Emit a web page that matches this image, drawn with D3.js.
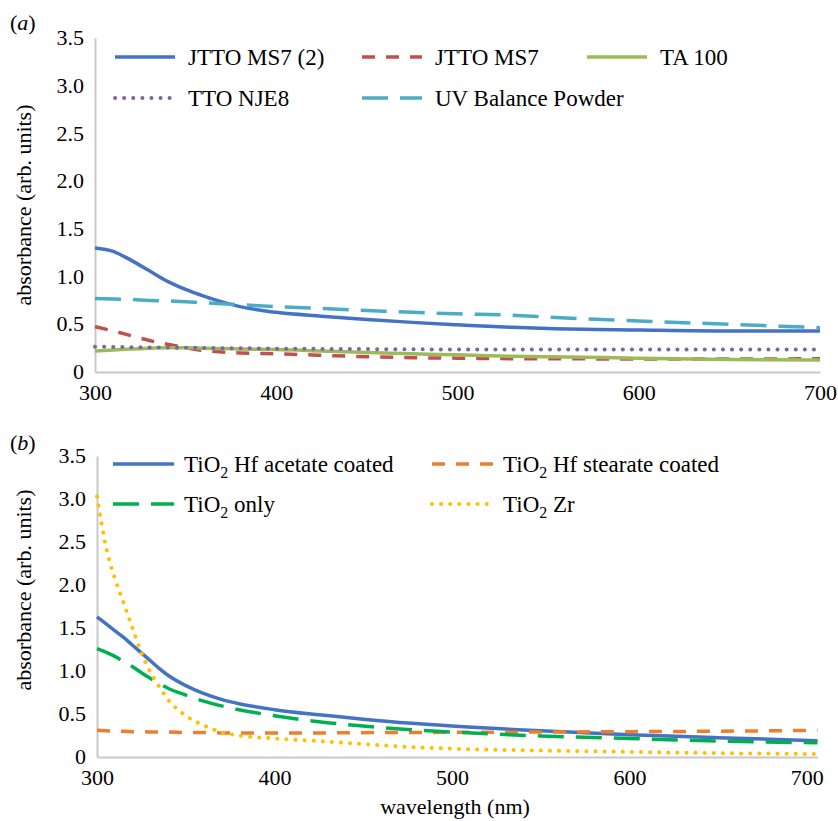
<!DOCTYPE html>
<html>
<head>
<meta charset="utf-8">
<script src="https://cdn.jsdelivr.net/npm/d3@7"></script>
<style>
  html, body { margin: 0; padding: 0; background: #fff; }
  svg { display: block; }
  svg text { font-family: "Liberation Serif", "DejaVu Serif", "Noto Serif", "Times New Roman", Times, Tinos, serif !important; fill: #000; }
</style>
</head>
<body>
<svg id="chart" width="838" height="821"></svg>
<script>
// ---------- Panel (a) data ----------
const wavelengthsA = [300,310,320,330,340,350,360,370,380,400,425,450,475,500,530,550,600,650,700];
const jttoMs7_2   = [1.30,1.265,1.17,1.06,0.95,0.865,0.795,0.735,0.685,0.625,0.585,0.55,0.52,0.495,0.468,0.455,0.44,0.43,0.43];
const jttoMs7     = [0.475,0.43,0.38,0.33,0.29,0.255,0.225,0.21,0.20,0.19,0.175,0.16,0.15,0.145,0.14,0.14,0.135,0.135,0.14];
const ta100       = [0.22,0.23,0.24,0.25,0.255,0.255,0.25,0.245,0.24,0.235,0.22,0.205,0.19,0.18,0.165,0.16,0.145,0.13,0.125];
const ttoNje8     = [0.265,0.263,0.26,0.258,0.256,0.254,0.252,0.25,0.249,0.245,0.242,0.24,0.238,0.236,0.235,0.235,0.235,0.235,0.235];
const uvBalance   = [0.77,0.765,0.76,0.75,0.745,0.735,0.725,0.715,0.705,0.685,0.665,0.645,0.625,0.61,0.595,0.575,0.535,0.50,0.465];

// ---------- Panel (b) data ----------
const wavelengthsB = [300,305,310,315,320,325,330,335,340,350,360,370,380,400,425,450,475,500,550,600,650,706];
const hfAcetate  = [1.63,1.55,1.47,1.39,1.30,1.21,1.12,1.03,0.95,0.83,0.74,0.67,0.62,0.55,0.49,0.44,0.395,0.36,0.305,0.26,0.225,0.19];
const hfStearate = [0.31,0.305,0.30,0.30,0.295,0.295,0.29,0.29,0.29,0.285,0.285,0.28,0.28,0.28,0.28,0.283,0.285,0.287,0.29,0.295,0.30,0.31];
const tio2Only   = [1.26,1.22,1.17,1.11,1.05,0.98,0.915,0.855,0.80,0.72,0.65,0.595,0.55,0.48,0.41,0.36,0.32,0.29,0.245,0.215,0.185,0.165];
const tio2Zr     = [3.03,2.45,2.08,1.79,1.50,1.21,0.99,0.82,0.67,0.48,0.37,0.29,0.25,0.215,0.185,0.15,0.118,0.097,0.075,0.06,0.045,0.035];

// ---------- ticks & labels ----------
const yTicks = [0,0.5,1.0,1.5,2.0,2.5,3.0,3.5];
const xTicks = [300,400,500,600,700];
const yTitle = "absorbance (arb. units)";
const xTitle = "wavelength (nm)";

const DOT = "0.1,9", DASH = "13,11", LONGDASH = "26,12";
const seriesA = [
  {name:["JTTO MS7 (2)"], values:jttoMs7_2, color:"#4472C4", dash:null, cap:"butt"},
  {name:["JTTO MS7"], values:jttoMs7, color:"#C0504D", dash:DASH, cap:"butt"},
  {name:["TA 100"], values:ta100, color:"#9BBB59", dash:null, cap:"butt"},
  {name:["TTO NJE8"], values:ttoNje8, color:"#8064A2", dash:DOT, cap:"round"},
  {name:["UV Balance Powder"], values:uvBalance, color:"#4BACC6", dash:LONGDASH, cap:"butt"}
];
const seriesB = [
  {name:["TiO","2"," Hf acetate coated"], values:hfAcetate, color:"#4472C4", dash:null, cap:"butt"},
  {name:["TiO","2"," Hf stearate coated"], values:hfStearate, color:"#ED7D31", dash:DASH, cap:"butt"},
  {name:["TiO","2"," only"], values:tio2Only, color:"#00B050", dash:LONGDASH, cap:"butt"},
  {name:["TiO","2"," Zr"], values:tio2Zr, color:"#FFC000", dash:DOT, cap:"round"}
];

const svg = d3.select("#chart");

function drawPanel(cfg) {
  const g = svg.append("g");
  const x = d3.scaleLinear().domain(cfg.xDomain).range(cfg.xRange);
  const y = d3.scaleLinear().domain([0,3.5]).range(cfg.yRange);

  const yAxis = d3.axisLeft(y).tickValues(yTicks).tickSize(0).tickPadding(11)
    .tickFormat(d => d === 0 ? "0" : d3.format(".1f")(d));
  const ya = g.append("g").attr("transform", `translate(${cfg.xRange[0]},0)`).call(yAxis);
  ya.select(".domain").attr("stroke", "#c8c8c8").attr("stroke-width", 2);
  ya.selectAll("text").attr("font-size", 22).attr("dy", "0.3em");

  const xAxis = d3.axisBottom(x).tickValues(xTicks).tickSize(0).tickPadding(12)
    .tickFormat(d3.format("d"));
  const xa = g.append("g").attr("transform", `translate(0,${cfg.yRange[0]})`).call(xAxis);
  xa.select(".domain").attr("stroke", "#c8c8c8").attr("stroke-width", 2);
  xa.selectAll("text").attr("font-size", 22);

  const line = d3.line().curve(d3.curveMonotoneX);
  cfg.series.forEach(s => {
    const pts = cfg.wl.map((w, i) => [x(w), y(s.values[i])]);
    g.append("path").attr("d", line(pts)).attr("fill", "none")
      .attr("stroke", s.color).attr("stroke-width", s.cap === "round" ? 4 : 3.5)
      .attr("stroke-dasharray", s.dash).attr("stroke-linecap", s.cap);
  });

  cfg.series.forEach((s, i) => {
    const pos = cfg.legendPos[i];
    g.append("line").attr("x1", pos[0]).attr("x2", pos[0] + cfg.legendLen)
      .attr("y1", pos[1]).attr("y2", pos[1])
      .attr("stroke", s.color).attr("stroke-width", s.cap === "round" ? 4 : 3.5)
      .attr("stroke-dasharray", s.dash).attr("stroke-linecap", s.cap);
    const t = g.append("text").attr("x", pos[0] + cfg.legendLen + cfg.textGap).attr("y", pos[1])
      .attr("dy", "0.33em").attr("font-size", 23);
    if (s.name.length === 1) {
      t.text(s.name[0]);
    } else {
      t.append("tspan").text(s.name[0]);
      t.append("tspan").text(s.name[1]).attr("font-size", 16).attr("dy", 6);
      t.append("tspan").text(s.name[2]).attr("dy", -6);
    }
  });

  g.append("text").attr("transform", `translate(${cfg.yTitleX},${cfg.yTitleY}) rotate(-90)`)
    .attr("text-anchor", "middle").attr("dy", "0.33em").attr("font-size", 22).text(yTitle);

  const pl = g.append("text").attr("x", 10).attr("y", cfg.labelY).attr("dy", "0.33em").attr("font-size", 22);
  pl.append("tspan").text("(");
  pl.append("tspan").text(cfg.label).attr("font-style", "italic");
  pl.append("tspan").text(")");
}

drawPanel({
  wl: wavelengthsA, series: seriesA, xDomain: [300,700], xRange: [95,820], yRange: [372,38],
  legendPos: [[115,57],[362,57],[587,57],[115,98],[362,98]], legendLen: 60, textGap: 13,
  yTitleX: 24, yTitleY: 205, label: "a", labelY: 23
});
drawPanel({
  wl: wavelengthsB, series: seriesB, xDomain: [300,706], xRange: [97,817.5], yRange: [757,456],
  legendPos: [[113,464],[432,464],[113,504],[432,504]], legendLen: 61, textGap: 10,
  yTitleX: 24, yTitleY: 590, label: "b", labelY: 443
});

svg.append("text").attr("x", 455).attr("y", 807).attr("dy", "0.33em")
  .attr("text-anchor", "middle").attr("font-size", 22).text(xTitle);
</script>
</body>
</html>
